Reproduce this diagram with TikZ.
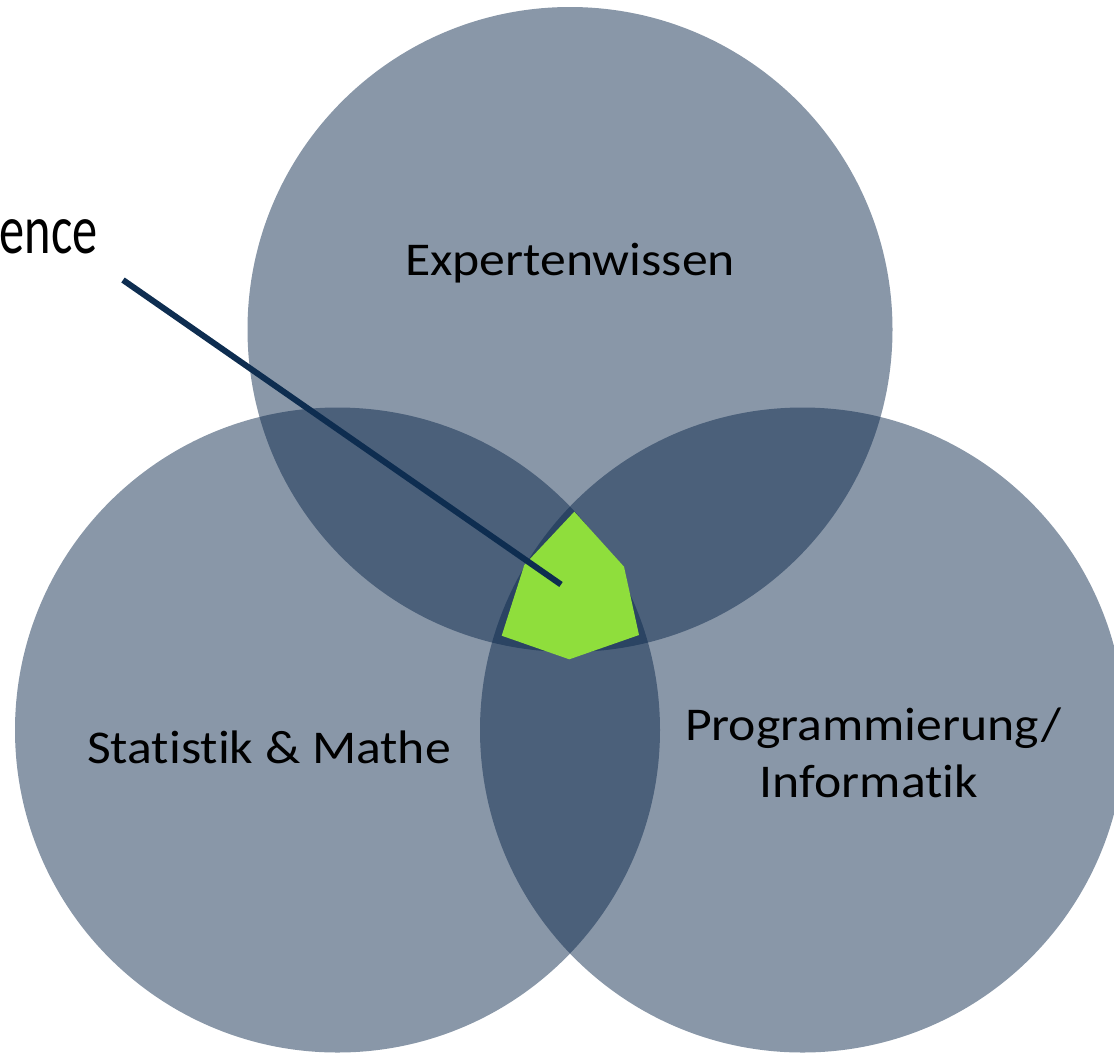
\documentclass[tikz,border=0pt]{standalone}
\usepackage{fontspec}
\setmainfont{Carlito}[Ligatures=NoCommon]
\newfontfamily\lblfont{Carlito}[FakeStretch=1.1, Ligatures=NoCommon]
\newfontfamily\ttlfont{Carlito}[FakeStretch=0.72, Ligatures=NoCommon]
\definecolor{circ}{RGB}{7,36,72}
\definecolor{lime}{RGB}{143,222,60}
\definecolor{navy}{RGB}{14,45,80}
\begin{document}
\begin{tikzpicture}[x=1pt,y=-1pt,
  venn/.style={circle, minimum size=645pt, inner sep=0pt, fill=circ, fill opacity=0.475, draw=none},
  lbl/.style={anchor=base, inner sep=0pt, text=black, font=\lblfont\fontsize{47}{56}\selectfont},
  title/.style={anchor=base east, inner sep=0pt, text=black, font=\ttlfont\fontsize{70}{84}\selectfont}]
\useasboundingbox (0,0) rectangle (1114,1053);
\clip (0,0) rectangle (1114,1053);
\node[venn] (top) at (570,329.5) {};
\node[venn] (left) at (337.5,730) {};
\node[venn] (right) at (802.5,730) {};
\fill[lime] (574.3,511.7) -- (624,566.7) -- (639,635) -- (569.3,659.3) -- (501.7,635.7) -- (524.3,565) -- cycle;
\coordinate (ls) at (123,280);
\coordinate (le) at (561,584.5);
\draw[navy, line width=6pt] (ls) -- (le);
\node[title] (ds) at (98,253) {ence};
\node[lbl] (exp) at (570,275) {Expertenwissen};
\node[lbl] (stat) at (269,763) {Statistik \& Mathe};
\node[lbl] (prog) at (873,740) {Programmierung/};
\node[lbl] (inf) at (869,797) {Informatik};
\end{tikzpicture}
\end{document}
